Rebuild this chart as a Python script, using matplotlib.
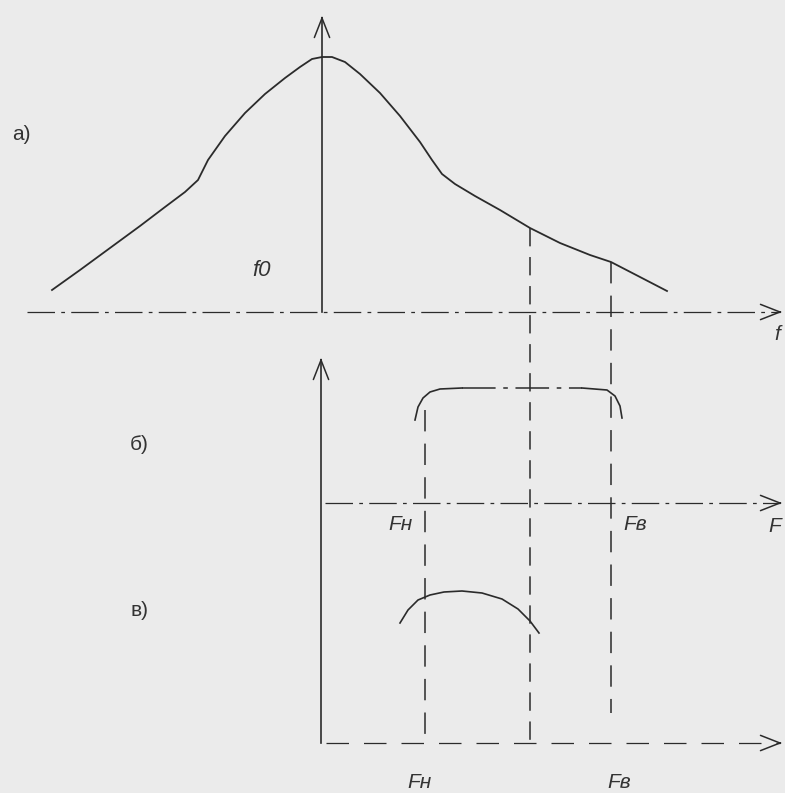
import numpy as np
import matplotlib.pyplot as plt

# curve a): resonance curve, x relative to the ordinate, y height above the axis
curve_a_x = [-270, -242, -212, -182, -157, -137, -124, -119, -114, -97, -77, -57,
             -37, -22, -10, 0, 10, 23, 38, 58, 78, 98, 110, 120, 133, 153, 178,
             208, 238, 268, 289, 318, 345]
curve_a_y = [22, 42, 64, 86, 105, 120, 132, 142, 152, 176, 199, 218,
             234, 245, 253, 255, 255, 250, 238, 219, 196, 170, 152, 138, 128, 116, 102,
             84, 69, 57, 50, 35, 21]

# curve б): flat band pass between Fн and Fв
curve_b_x = [93, 96, 101, 108, 118, 140, 200, 260, 285, 293, 298, 300]
curve_b_y = [83, 96, 105, 111, 114, 115, 115, 115, 113, 107, 97, 85]

# curve в): narrow arc shifted towards Fн
curve_c_x = [78, 86, 96, 108, 122, 140, 160, 180, 196, 208, 214, 217]
curve_c_y = [120, 133, 143, 148, 151, 152, 150, 144, 134, 122, 114, 110]

# frequency marks (x relative to the ordinate)
f_n = 103
f_mid = 208
f_v = 289

labels_b = ["Fн", "Fв"]
labels_c = ["Fн", "Fв"]

W, H = 785, 793
X0 = 322                 # ordinate position
BASE_A, BASE_B, BASE_C = 312, 503, 743
INK = "#2b2b2b"

fig = plt.figure(figsize=(W / 100, H / 100), dpi=100)
fig.patch.set_facecolor("#ebebeb")
ax = fig.add_axes([0, 0, 1, 1])
ax.set_xlim(0, W)
ax.set_ylim(H, 0)
ax.axis("off")
ax.set_facecolor("#ebebeb")


def px(xs):
    return [X0 + v for v in xs]


def py(ys, base):
    return [base - v for v in ys]


def arrow_head(x, y, dx, dy):
    ax.annotate("", xy=(x, y), xytext=(x - dx, y - dy),
                arrowprops=dict(arrowstyle="->,head_length=1.4,head_width=0.55",
                                color=INK, lw=1.1, shrinkA=0, shrinkB=0))


# ordinates
ax.plot([X0, X0], [BASE_A, 18], color=INK, lw=1.2)
arrow_head(X0, 16, 0, -2)
ax.plot([X0 - 1, X0 - 1], [BASE_C, 362], color=INK, lw=1.2)
arrow_head(X0 - 1, 358, 0, -2)

# abscissas (dash-dot)
ax.plot([27, 780], [BASE_A, BASE_A], color=INK, lw=0.9, dashes=(22, 5, 3, 5))
arrow_head(782, BASE_A, 2, 0)
ax.plot([325, 780], [BASE_B, BASE_B], color=INK, lw=0.9, dashes=(22, 5, 3, 5))
arrow_head(782, BASE_B, 2, 0)
ax.plot([326, 780], [BASE_C, BASE_C], color=INK, lw=0.9, dashes=(18, 12))
arrow_head(782, BASE_C, 2, 0)

# vertical dashed marks
ax.plot(px([f_mid, f_mid]), [BASE_A - 84, BASE_C], color=INK, lw=1.1,
        dashes=(12, 7))
ax.plot(px([f_v, f_v]), [BASE_A - 50, BASE_C - 30], color=INK, lw=1.1,
        dashes=(14, 8))
ax.plot(px([f_n, f_n]), [410, BASE_C], color=INK, lw=1.1, dashes=(14, 8))

# curves
ax.plot(px(curve_a_x), py(curve_a_y, BASE_A), color=INK, lw=1.3,
        solid_joinstyle="round")
ax.plot(px(curve_b_x[:6]), py(curve_b_y[:6], BASE_B), color=INK, lw=1.2)
ax.plot(px(curve_b_x[5:8]), py(curve_b_y[5:8], BASE_B), color=INK, lw=1.1,
        dashes=(22, 5, 3, 5))
ax.plot(px(curve_b_x[7:]), py(curve_b_y[7:], BASE_B), color=INK, lw=1.2)
ax.plot(px(curve_c_x), py(curve_c_y, BASE_C), color=INK, lw=1.2)

# labels
txt = dict(color="#333333", fontfamily="Liberation Sans")
ax.text(12, 135, "а)", fontsize=15, va="center", **txt)
ax.text(130, 445, "б)", fontsize=15, va="center", **txt)
ax.text(130, 610, "в)", fontsize=15, va="center", **txt)
ax.text(252, 270, "f0", fontsize=16, style="italic", va="center", **txt)
ax.text(X0 + f_n - 12, 525, labels_b[0], fontsize=15, style="italic",
        ha="right", va="center", **txt)
ax.text(X0 + f_v + 12, 525, labels_b[1], fontsize=15, style="italic",
        ha="left", va="center", **txt)
ax.text(X0 + f_n - 18, 783, labels_c[0], fontsize=15, style="italic",
        ha="left", va="center", **txt)
ax.text(X0 + f_v - 4, 783, labels_c[1], fontsize=15, style="italic",
        ha="left", va="center", **txt)
ax.text(768, 526, "F", fontsize=15, style="italic", va="center", **txt)
ax.text(774, 334, "f", fontsize=15, style="italic", va="center", **txt)

fig.savefig("out.png", dpi=100, facecolor=fig.get_facecolor())
